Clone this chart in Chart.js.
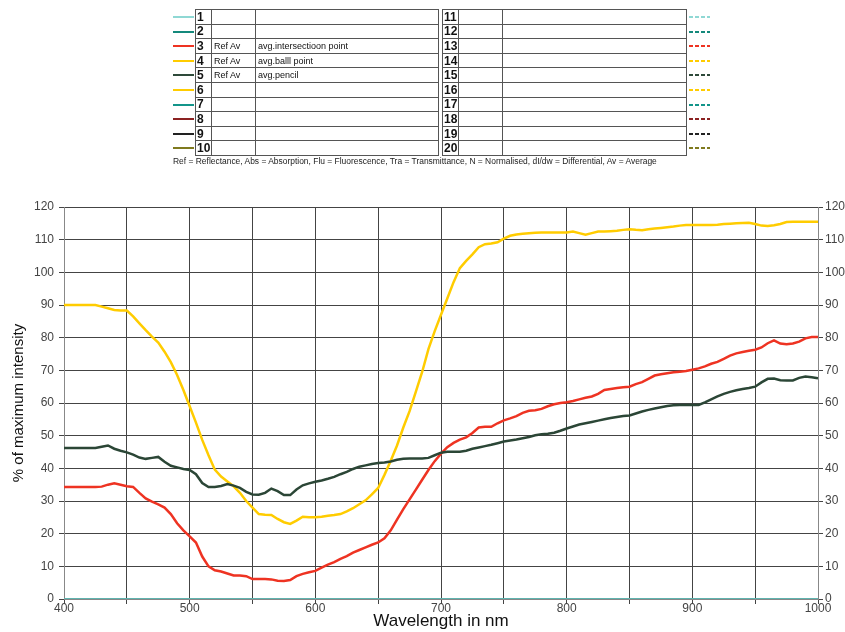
<!DOCTYPE html>
<html>
<head>
<meta charset="utf-8">
<script src="https://cdn.jsdelivr.net/npm/chart.js@4.4.1/dist/chart.umd.min.js"></script>
<style>
  html, body { margin: 0; padding: 0; background: #fff; }
  #wrap { position: relative; width: 845px; height: 632px; overflow: hidden; }
  #c { position: absolute; left: 0; top: 0; }
  table.leg { position: absolute; top: 9px; border-collapse: collapse; table-layout: fixed;
              font-family: Arial, "Liberation Sans", sans-serif; border: 1px solid #222; }
  table.leg tr { height: 14.6px; }
  table.leg td { border: 1px solid #555; padding: 0 0 0 2px; font-size: 9px; line-height: 12px;
                 white-space: nowrap; overflow: hidden; color: #111; }
  table.leg td.n { font-weight: bold; font-size: 12px; padding-left: 1px; }
  .sw { position: absolute; height: 2px; width: 21px; }
  #note { position: absolute; left: 173px; top: 156px; font: 8.45px Arial, "Liberation Sans", sans-serif; color: #222; white-space: nowrap; }
</style>
</head>
<body>
<div id="wrap">
  <canvas id="c" width="845" height="632"></canvas>
  <div id="legend"></div>
  <div id="note">Ref = Reflectance, Abs = Absorption, Flu = Fluorescence, Tra = Transmittance, N = Normalised, dI/dw = Differential, Av = Average</div>
</div>
<script>
// wavelengths sampled every 5 nm, 400..1000
var WL_START = 400, WL_STEP = 5;

// avg.intersectioon point (red)
var intersection = [
  34.3, 34.3, 34.3, 34.3, 34.3, 34.3, 34.4, 35, 35.4, 35,
  34.5, 34.3, 32.5, 30.8, 29.8, 29, 28, 26, 23.2, 21,
  19.2, 17.3, 13, 10, 8.8, 8.4, 7.8, 7.2, 7.2, 7,
  6.1, 6.1, 6.1, 6, 5.6, 5.5, 5.8, 7, 7.7, 8.2,
  8.6, 9.6, 10.5, 11.3, 12.3, 13.1, 14.2, 15, 15.8, 16.6,
  17.3, 18.6, 21, 24.3, 27.5, 30.5, 33.5, 36.5, 39.5, 42.2,
  44.5, 46.5, 47.8, 48.8, 49.5, 50.8, 52.5, 52.7, 52.7, 53.8,
  54.7, 55.3, 56, 57, 57.6, 57.8, 58.2, 59, 59.6, 60,
  60.2, 60.6, 61.1, 61.6, 62, 62.8, 64, 64.3, 64.6, 64.8,
  65, 65.8, 66.4, 67.4, 68.4, 68.8, 69.1, 69.4, 69.6, 69.8,
  70.2, 70.6, 71.2, 72, 72.6, 73.5, 74.5, 75.2, 75.6, 76,
  76.3, 77, 78.3, 79.2, 78.2, 78, 78.2, 78.8, 79.8, 80.2,
  80.2
];

// avg.balll point (yellow)
var ballPoint = [
  90, 90, 90, 90, 90, 90, 89.5, 89, 88.5, 88.3,
  88.3, 86.5, 84.4, 82.3, 80.3, 78.5, 75.7, 72.5, 68.6, 64,
  59, 54, 48.7, 44, 39.6, 37.5, 36, 34.5, 32.5, 30,
  28, 26, 25.8, 25.7, 24.5, 23.5, 23, 24, 25.2, 25,
  25, 25.2, 25.5, 25.7, 26, 26.8, 27.8, 29, 30.2, 32,
  34, 38, 42.3, 47, 52.5, 57.5, 63.5, 69.5, 76.5, 82,
  87, 92, 97, 101.3, 103.5, 105.5, 107.7, 108.6, 108.8, 109.2,
  110.3, 111.2, 111.6, 111.8, 112, 112.1, 112.2, 112.2, 112.2, 112.2,
  112.2, 112.5, 112, 111.5, 112, 112.5, 112.5, 112.6, 112.7, 113,
  113.2, 113, 112.9, 113.2, 113.4, 113.6, 113.8, 114, 114.3, 114.5,
  114.5, 114.5, 114.5, 114.5, 114.6, 114.8, 114.9, 115, 115.1, 115.2,
  114.8, 114.3, 114.2, 114.4, 114.8, 115.4, 115.5, 115.5, 115.5, 115.5,
  115.5
];

// avg.pencil (dark green)
var pencil = [
  46.2, 46.2, 46.2, 46.2, 46.2, 46.2, 46.6, 47, 46, 45.4,
  44.9, 44.2, 43.3, 42.9, 43.2, 43.5, 42, 40.8, 40.3, 39.8,
  39.5, 38.2, 35.5, 34.3, 34.3, 34.6, 35.2, 34.7, 34, 32.8,
  32, 31.9, 32.5, 33.8, 33, 31.8, 31.8, 33.5, 34.8, 35.4,
  35.9, 36.3, 36.8, 37.4, 38.2, 38.9, 39.8, 40.5, 40.9, 41.3,
  41.6, 41.8, 42.1, 42.6, 42.9, 43, 43, 43, 43.2, 44,
  44.8, 45.1, 45.1, 45.1, 45.4, 46, 46.4, 46.8, 47.2, 47.7,
  48.2, 48.5, 48.8, 49.2, 49.6, 50.1, 50.4, 50.6, 50.9, 51.5,
  52.2, 52.8, 53.4, 53.8, 54.2, 54.6, 55, 55.4, 55.7, 56,
  56.2, 56.8, 57.4, 57.9, 58.3, 58.7, 59.1, 59.3, 59.4, 59.4,
  59.4, 59.4, 60.2, 61.1, 62, 62.8, 63.4, 63.9, 64.3, 64.6,
  65, 66.3, 67.4, 67.5, 67, 66.9, 66.9, 67.7, 68.1, 67.9,
  67.6
];

// empty channel lying on the baseline (teal)
var baseline = [0, 0];
var baselineWl = [400, 1000];

// legend table rows 1..20
var rowColors = ['#8fd8d4', '#14897c', '#ee3322', '#ffcc00', '#2e4a3a',
                 '#ffcc00', '#13958a', '#8b2222', '#222222', '#7f7a1e'];
var rowTypes = ['', '', 'Ref Av', 'Ref Av', 'Ref Av', '', '', '', '', ''];
var rowNames = ['', '', 'avg.intersectioon point', 'avg.balll point', 'avg.pencil', '', '', '', '', ''];

function toPoints(vals) {
    return vals.map(function(v, i) { return { x: WL_START + i * WL_STEP, y: v }; });
}

// ---- legend table ----
function buildTable(left, widths, offset, dashed, swX) {
    var t = document.createElement('table');
    t.className = 'leg';
    t.style.left = left + 'px';
    var cg = document.createElement('colgroup');
    widths.forEach(function(w) {
        var c = document.createElement('col');
        c.style.width = w + 'px';
        cg.appendChild(c);
    });
    t.appendChild(cg);
    for (var i = 0; i < 10; i++) {
        var tr = document.createElement('tr');
        var n = document.createElement('td');
        n.className = 'n';
        n.textContent = (i + 1 + offset);
        var a = document.createElement('td');
        var b = document.createElement('td');
        if (!offset) { a.textContent = rowTypes[i]; b.textContent = rowNames[i]; }
        tr.appendChild(n); tr.appendChild(a); tr.appendChild(b);
        t.appendChild(tr);

        var sw = document.createElement('div');
        sw.className = 'sw';
        sw.style.left = swX + 'px';
        sw.style.top = (16 + i * 14.6) + 'px';
        sw.style.background = dashed
            ? 'repeating-linear-gradient(to right,' + rowColors[i] + ' 0 4px, transparent 4px 6px)'
            : rowColors[i];
        document.getElementById('legend').appendChild(sw);
    }
    document.getElementById('legend').appendChild(t);
}
buildTable(195, [16, 44, 183], 0, false, 173);
buildTable(442, [16, 44, 184], 10, true, 689);

// ---- chart ----
Chart.defaults.font.family = 'Arial, "Liberation Sans", sans-serif';
Chart.defaults.color = '#444';

var gridColor = '#444';

new Chart(document.getElementById('c').getContext('2d'), {
    type: 'line',
    data: {
        datasets: [
            { data: baselineWl.map(function(w, i) { return { x: w, y: baseline[i] }; }),
              borderColor: '#5fb3ae', borderWidth: 2 },
            { data: toPoints(pencil), borderColor: '#2b4636', borderWidth: 2.5 },
            { data: toPoints(intersection), borderColor: '#ee3322', borderWidth: 2.5 },
            { data: toPoints(ballPoint), borderColor: '#ffcc00', borderWidth: 2.5 }
        ]
    },
    options: {
        responsive: false,
        animation: false,
        layout: { padding: { top: 207, left: 0, right: 0, bottom: 0 } },
        elements: { point: { radius: 0 }, line: { tension: 0 } },
        plugins: { legend: { display: false }, tooltip: { enabled: false } },
        scales: {
            x: {
                type: 'linear', min: 400, max: 1000,
                ticks: {
                    stepSize: 50, autoSkip: false, maxRotation: 0, padding: -3,
                    font: { size: 12 },
                    callback: function(v) { return v % 100 === 0 ? v : ''; }
                },
                grid: { color: gridColor, tickLength: 5 },
                border: { color: '#888' },
                title: { display: true, text: 'Wavelength in nm', color: '#111',
                         font: { size: 17 }, padding: { top: 0, bottom: 0 } },
                afterFit: function(s) { s.height = 33; }
            },
            y: {
                position: 'left', min: 0, max: 120,
                ticks: { stepSize: 10, padding: 5, font: { size: 12 } },
                grid: { color: gridColor, tickLength: 5 },
                border: { color: '#888' },
                title: { display: true, text: '% of maximum intensity', color: '#111',
                         font: { size: 15 }, padding: { top: 10, bottom: 0 } },
                afterFit: function(s) { s.width = 64; }
            },
            y2: {
                position: 'right', min: 0, max: 120,
                ticks: { stepSize: 10, padding: 2, font: { size: 12 } },
                grid: { drawOnChartArea: false, color: gridColor, tickLength: 5 },
                border: { color: '#888' },
                afterFit: function(s) { s.width = 27; }
            }
        }
    }
});
</script>
</body>
</html>
